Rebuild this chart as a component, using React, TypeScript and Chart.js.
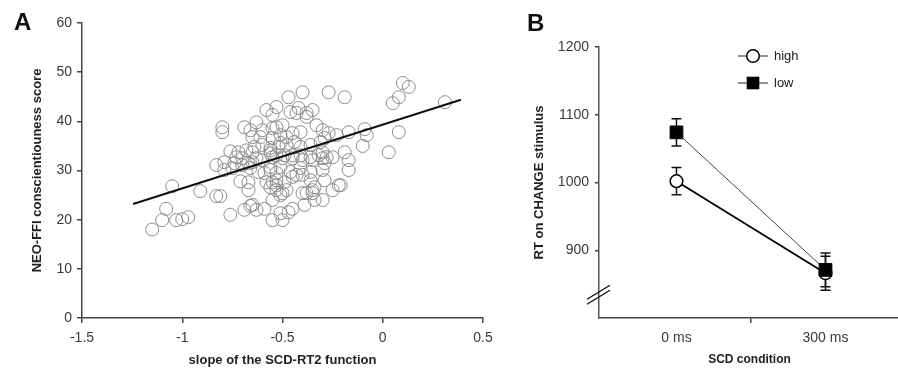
import React, { useEffect, useRef } from 'react';
import { Chart, registerables } from 'chart.js';

Chart.register(...registerables);

const FONT = "'Liberation Sans', Arial, Helvetica, sans-serif";

// ---------- Panel A data ----------
const scatterX = [
  -1.15, -1.10, -1.08, -1.03, -1.00, -0.97, -1.05, -0.91, -0.83, -0.81, -0.76, -0.69, -0.66, -0.63, -0.59, -0.55, -0.55, -0.50, -0.51, -0.45,
  -0.67, -0.51, -0.48, -0.56, -0.53, -0.39, -0.34, -0.30, -0.35, -0.25, -0.21, -0.38, -0.65, -0.47,
  -0.83, -0.79, -0.75, -0.71, -0.67, -0.67, -0.74, -0.70, -0.66, -0.62, -0.59, -0.56, -0.53, -0.51, -0.55, -0.58, -0.53, -0.49, -0.45, -0.53,
  -0.50, -0.56, -0.46, -0.41, -0.36, -0.36, -0.34, -0.29, -0.40, -0.35, -0.29, -0.30, -0.17, -0.17, -0.22, -0.43, -0.40,
  -0.76, -0.73, -0.72, -0.68, -0.79, -0.70, -0.65, -0.60, -0.55, -0.50, -0.65, -0.63, -0.56, -0.53, -0.45, -0.41, -0.36, -0.32, -0.28, -0.49,
  -0.64, -0.56, -0.51, -0.60, -0.56, -0.52, -0.48, -0.41, -0.36, -0.19, -0.10, -0.30, -0.25, -0.44, -0.31, -0.40, -0.45, -0.35, -0.30,
  -0.80, -0.80, -0.69, -0.63, -0.58, -0.53, -0.47, -0.46, -0.66, -0.65, -0.60, -0.55, -0.53, -0.48, -0.45, -0.55, -0.50, -0.61, -0.55, -0.51,
  0.10, 0.13, 0.05, 0.08, 0.31, 0.08, 0.03, -0.09, -0.08, -0.17, -0.23, -0.27, -0.19, -0.40, -0.42, -0.38, -0.35, -0.33, -0.30, -0.29,
  -0.41, -0.43, -0.27, -0.38,
];
const scatterY = [
  18.0, 19.9, 22.2, 19.9, 20.1, 20.5, 26.8, 25.8, 24.8, 24.8, 21.0, 22.0, 22.8, 22.0, 22.2, 24.0, 19.9, 19.9, 21.3, 22.2,
  26.0, 25.0, 26.0, 26.6, 27.0, 23.0, 24.0, 24.0, 26.0, 26.0, 27.0, 25.4, 23.0, 21.5,
  31.1, 30.1, 30.5, 27.8, 27.6, 31.5, 31.5, 31.1, 30.5, 29.7, 29.5, 30.7, 29.5, 30.7, 27.6, 27.6, 28.0, 27.6, 28.7, 26.0,
  25.4, 30.1, 29.7, 30.5, 29.7, 28.0, 26.6, 28.0, 25.4, 25.4, 31.5, 30.1, 32.1, 30.1, 27.0, 29.1, 29.1,
  33.9, 32.7, 33.7, 34.1, 31.7, 32.5, 31.7, 32.1, 32.7, 32.5, 33.7, 32.5, 33.5, 33.1, 33.1, 33.1, 32.7, 33.1, 32.7, 33.1,
  34.8, 34.6, 35.6, 35.2, 34.1, 34.8, 35.2, 34.8, 35.2, 33.7, 35.0, 33.7, 32.7, 35.8, 35.8, 32.1, 32.5, 32.1, 32.5,
  38.8, 37.8, 38.8, 39.8, 42.3, 42.9, 44.9, 41.9, 38.2, 36.8, 38.2, 41.3, 38.8, 36.8, 37.6, 38.6, 39.2, 36.8, 36.6, 37.2,
  47.8, 47.0, 43.7, 44.9, 43.9, 37.8, 33.7, 38.4, 37.2, 37.8, 37.2, 45.9, 44.9, 45.9, 42.7, 40.9, 42.3, 39.2, 38.2, 36.6,
  37.8, 41.7, 37.6, 41.7,
];
const regressionX = [-1.245, 0.39];
const regressionY = [23.2, 44.4];
const xTicksA = [-1.5, -1, -0.5, 0, 0.5];
const yTicksA = [0, 10, 20, 30, 40, 50, 60];

// ---------- Panel B data ----------
const conditions = ['0 ms', '300 ms'];
const conditionPos = [0, 1];
const conditionDivider = 0.5;
const seriesNames = ['high', 'low'];
const highRT = [1002, 866];
const highErr = [20, 25];
const lowRT = [1074, 871];
const lowErr = [20, 25];
const yTicksB = [800, 900, 1000, 1100, 1200];
const breakValue = 838;

export default function App() {
  const refA = useRef<HTMLCanvasElement>(null);
  const refB = useRef<HTMLCanvasElement>(null);

  useEffect(() => {
    const tickFont = { family: FONT, size: 14 };
    const chartA = new Chart(refA.current!, {
      type: 'scatter',
      data: {
        datasets: [
          {
            type: 'line',
            data: regressionX.map((x, i) => ({ x, y: regressionY[i] })),
            borderColor: '#111',
            borderWidth: 2,
            pointRadius: 0,
            fill: false,
            showLine: true,
          } as any,
          {
            type: 'scatter',
            data: scatterX.map((x, i) => ({ x, y: scatterY[i] })),
            pointRadius: 6.5,
            borderColor: '#8c8c8c',
            backgroundColor: 'rgba(255,255,255,0)',
            borderWidth: 1,
          } as any,
        ],
      },
      options: {
        responsive: false,
        animation: false,
        devicePixelRatio: 1,
        layout: { padding: { left: 0, right: 17, top: 23, bottom: 0 } },
        plugins: { legend: { display: false }, tooltip: { enabled: false } },
        scales: {
          x: {
            type: 'linear',
            min: -1.5,
            max: 0.5,
            afterBuildTicks: (s: any) => { s.ticks = xTicksA.map((v) => ({ value: v })); },
            afterFit: (s: any) => { s.height = 50; },
            ticks: { font: tickFont, color: '#3a3a3a', padding: 7, maxRotation: 0, autoSkip: false, callback: (v: any) => String(v) },
            grid: { drawOnChartArea: false, drawTicks: true, tickLength: 5, color: '#444', lineWidth: 1.5 },
            border: { display: true, color: '#444', width: 1.5 },
            title: { display: true, text: 'slope of the SCD-RT2 function', color: '#222', font: { family: FONT, size: 13, weight: 'bold' }, padding: { top: 0, bottom: 0 } },
          },
          y: {
            type: 'linear',
            min: 0,
            max: 60,
            afterBuildTicks: (s: any) => { s.ticks = yTicksA.map((v) => ({ value: v })); },
            afterFit: (s: any) => { s.width = 82; },
            ticks: { font: tickFont, color: '#3a3a3a', padding: 5, autoSkip: false, callback: (v: any) => String(v) },
            grid: { drawOnChartArea: false, drawTicks: true, tickLength: 5, color: '#444', lineWidth: 1.5 },
            border: { display: true, color: '#444', width: 1.5 },
            title: { display: true, text: 'NEO-FFI conscientiouness score', color: '#222', font: { family: FONT, size: 13, weight: 'bold' }, padding: { top: 30, bottom: 0 } },
          },
        },
      } as any,
    });

    const errorBars = {
      id: 'errorBars',
      beforeDatasetsDraw(chart: any) {
        const ctx = chart.ctx;
        const xs = chart.scales.x;
        const ys = chart.scales.y;
        chart.data.datasets.forEach((ds: any) => {
          ds.errors.forEach((e: number, i: number) => {
            const pt = ds.data[i];
            const x = xs.getPixelForValue(pt.x);
            const yt = ys.getPixelForValue(pt.y + e);
            const yb = ys.getPixelForValue(pt.y - e);
            ctx.save();
            ctx.strokeStyle = '#111';
            ctx.lineWidth = 1.5;
            ctx.beginPath();
            ctx.moveTo(x, yt); ctx.lineTo(x, yb);
            ctx.moveTo(x - 5, yt); ctx.lineTo(x + 5, yt);
            ctx.moveTo(x - 5, yb); ctx.lineTo(x + 5, yb);
            ctx.stroke();
            ctx.restore();
          });
        });
      },
    };

    const extras = {
      id: 'extras',
      afterDraw(chart: any) {
        const ctx = chart.ctx;
        const left = chart.chartArea.left;
        const yb = chart.scales.y.getPixelForValue(breakValue);
        ctx.save();
        ctx.strokeStyle = '#111';
        ctx.lineWidth = 1.4;
        ctx.beginPath();
        [0, 5].forEach((d) => {
          ctx.moveTo(left - 12, yb + d + 7);
          ctx.lineTo(left + 11, yb + d - 7);
        });
        ctx.stroke();
        // legend
        const lx = left + 154;
        const rows = [56, 83];
        rows.forEach((ry, i) => {
          ctx.strokeStyle = '#222';
          ctx.lineWidth = 1;
          ctx.beginPath();
          ctx.moveTo(lx - 15, ry);
          ctx.lineTo(lx + 15, ry);
          ctx.stroke();
          if (i === 0) {
            ctx.beginPath();
            ctx.arc(lx, ry, 6.3, 0, Math.PI * 2);
            ctx.fillStyle = '#fff';
            ctx.fill();
            ctx.lineWidth = 1.5;
            ctx.strokeStyle = '#000';
            ctx.stroke();
          } else {
            ctx.fillStyle = '#000';
            ctx.fillRect(lx - 6.3, ry - 6.3, 12.6, 12.6);
          }
          ctx.fillStyle = '#222';
          ctx.font = `13px ${FONT}`;
          ctx.textBaseline = 'middle';
          ctx.textAlign = 'left';
          ctx.fillText(seriesNames[i], lx + 21, ry);
        });
        ctx.restore();
      },
    };

    const chartB = new Chart(refB.current!, {
      type: 'line',
      data: {
        datasets: [
          {
            label: seriesNames[1],
            data: lowRT.map((y, i) => ({ x: conditionPos[i], y })),
            errors: lowErr,
            borderColor: '#444',
            borderWidth: 1,
            pointStyle: 'rect',
            pointRadius: 9,
            pointBackgroundColor: '#000',
            pointBorderColor: '#000',
            pointBorderWidth: 1,
            fill: false,
          } as any,
          {
            label: seriesNames[0],
            data: highRT.map((y, i) => ({ x: conditionPos[i], y })),
            errors: highErr,
            borderColor: '#000',
            borderWidth: 1.8,
            pointStyle: 'circle',
            pointRadius: 6.3,
            pointBackgroundColor: '#fff',
            pointBorderColor: '#000',
            pointBorderWidth: 1.5,
            fill: false,
          } as any,
        ],
      },
      options: {
        responsive: false,
        animation: false,
        devicePixelRatio: 1,
        layout: { padding: { left: 0, right: 4, top: 47, bottom: 0 } },
        plugins: { legend: { display: false }, tooltip: { enabled: false } },
        scales: {
          x: {
            type: 'linear',
            min: -0.52,
            max: 1.5,
            afterBuildTicks: (s: any) => {
              s.ticks = [conditionPos[0], conditionDivider, conditionPos[1]].map((v) => ({ value: v }));
            },
            afterFit: (s: any) => { s.height = 50; },
            ticks: {
              font: tickFont, color: '#3a3a3a', padding: 7, maxRotation: 0, autoSkip: false,
              callback: (v: any) => { const k = conditionPos.indexOf(v); return k >= 0 ? conditions[k] : ''; },
            },
            grid: {
              drawOnChartArea: false, drawTicks: true, tickLength: 5, lineWidth: 1.5, color: '#444',
              tickColor: (c: any) => (c.tick && c.tick.value === conditionDivider ? '#444' : 'rgba(0,0,0,0)'),
            },
            border: { display: true, color: '#444', width: 1.5 },
            title: { display: true, text: 'SCD condition', color: '#222', font: { family: FONT, size: 12, weight: 'bold' }, padding: { top: 0, bottom: 1 } },
          },
          y: {
            type: 'linear',
            min: 800,
            max: 1200,
            afterBuildTicks: (s: any) => { s.ticks = yTicksB.map((v) => ({ value: v })); },
            afterFit: (s: any) => { s.width = 99; },
            ticks: {
              font: tickFont, color: '#3a3a3a', padding: 6, autoSkip: false,
              callback: (v: any) => (v === yTicksB[0] ? '' : String(v)),
            },
            grid: {
              drawOnChartArea: false, drawTicks: true, tickLength: 4, lineWidth: 1.5, color: '#444',
              tickColor: (c: any) => (c.tick && c.tick.value === yTicksB[0] ? 'rgba(0,0,0,0)' : '#444'),
            },
            border: { display: true, color: '#555', width: 1.5 },
            title: { display: true, text: 'RT on CHANGE stimulus', color: '#222', font: { family: FONT, size: 13, weight: 'bold' }, padding: { top: 32, bottom: 0 } },
          },
        },
      } as any,
      plugins: [errorBars, extras],
    });

    return () => {
      chartA.destroy();
      chartB.destroy();
    };
  }, []);

  const letter: React.CSSProperties = {
    position: 'absolute',
    fontFamily: FONT,
    fontWeight: 'bold',
    fontSize: 24,
    lineHeight: 'normal',
    color: '#111',
  };

  return (
    <div style={{ position: 'absolute', left: 0, top: 0, width: 898, height: 368, overflow: 'hidden', background: '#fff' }}>
      <canvas ref={refA} width={500} height={368} style={{ position: 'absolute', left: 0, top: 0 }} />
      <canvas ref={refB} width={410} height={368} style={{ position: 'absolute', left: 500, top: 0 }} />
      <div style={{ ...letter, left: 14, top: 8 }}>A</div>
      <div style={{ ...letter, left: 527, top: 9 }}>B</div>
    </div>
  );
}
